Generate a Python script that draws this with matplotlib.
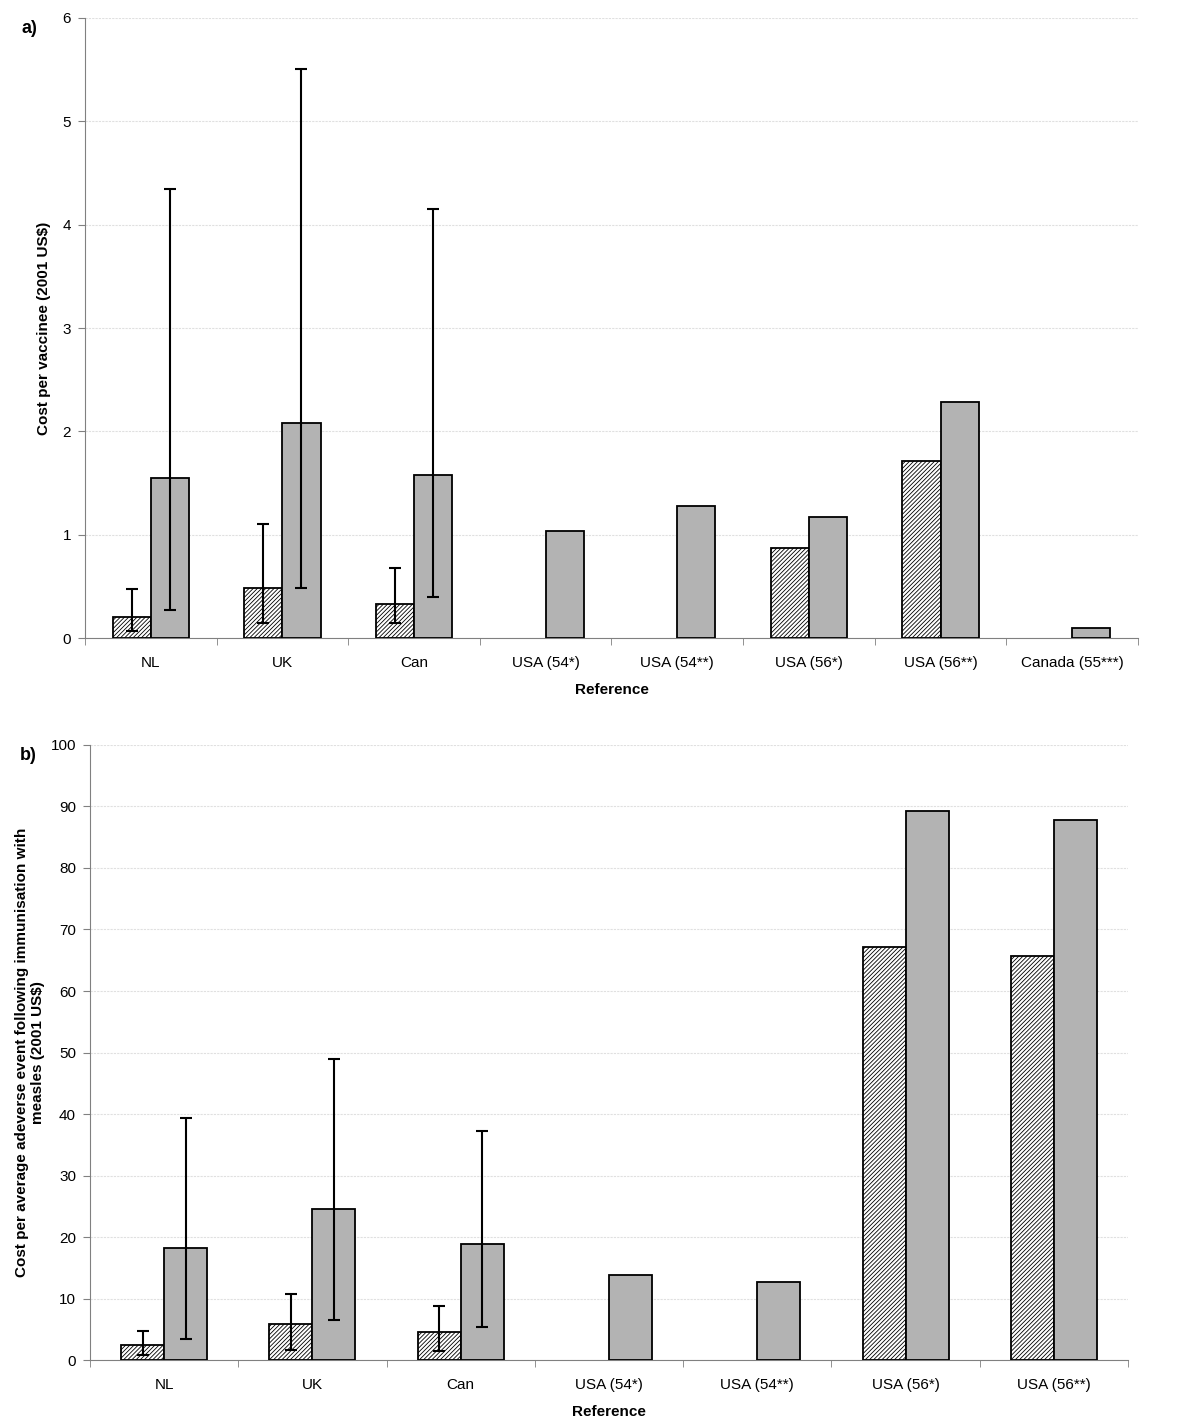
import numpy as np
import matplotlib.pyplot as plt

plt.rcParams['font.family'] = ['Liberation Sans', 'DejaVu Sans']
plt.rcParams['hatch.linewidth'] = 0.6

# panel a) cost per vaccinee
cats_a = ["NL", "UK", "Can", "USA (54*)", "USA (54**)", "USA (56*)", "USA (56**)", "Canada (55***)"]
hatched_a = [0.20, 0.48, 0.33, np.nan, np.nan, 0.87, 1.71, np.nan]
hatched_a_lo = [0.07, 0.15, 0.15, np.nan, np.nan, np.nan, np.nan, np.nan]
hatched_a_hi = [0.47, 1.10, 0.68, np.nan, np.nan, np.nan, np.nan, np.nan]
gray_a = [1.55, 2.08, 1.58, 1.04, 1.28, 1.17, 2.28, 0.10]
gray_a_lo = [0.27, 0.48, 0.40, np.nan, np.nan, np.nan, np.nan, np.nan]
gray_a_hi = [4.35, 5.51, 4.15, np.nan, np.nan, np.nan, np.nan, np.nan]

# panel b) cost per average adverse event
cats_b = ["NL", "UK", "Can", "USA (54*)", "USA (54**)", "USA (56*)", "USA (56**)"]
hatched_b = [2.5, 5.9, 4.5, np.nan, np.nan, 67.1, 65.7]
hatched_b_lo = [0.8, 1.7, 1.4, np.nan, np.nan, np.nan, np.nan]
hatched_b_hi = [4.8, 10.8, 8.8, np.nan, np.nan, np.nan, np.nan]
gray_b = [18.2, 24.5, 18.8, 13.8, 12.7, 89.3, 87.8]
gray_b_lo = [3.5, 6.5, 5.3, np.nan, np.nan, np.nan, np.nan]
gray_b_hi = [39.4, 48.9, 37.2, np.nan, np.nan, np.nan, np.nan]


def draw_panel(ax, cats, hv, hlo, hhi, gv, glo, ghi, ymax, ystep, ylabel, tag, tagx, lpad):
    x = np.arange(len(cats))
    w = 0.29
    hv = np.array(hv); gv = np.array(gv)
    ax.bar(x - w / 2, hv, w, facecolor='white', edgecolor='black', hatch='/' * 8, linewidth=1.3, zorder=3)
    ax.bar(x + w / 2, gv, w, facecolor='#b3b3b3', edgecolor='black', linewidth=1.3, zorder=3)
    herr = [hv - np.array(hlo), np.array(hhi) - hv]
    gerr = [gv - np.array(glo), np.array(ghi) - gv]
    ax.errorbar(x - w / 2, hv, yerr=herr, fmt='none', ecolor='black', elinewidth=1.5, capsize=4, capthick=1.5, zorder=4)
    ax.errorbar(x + w / 2, gv, yerr=gerr, fmt='none', ecolor='black', elinewidth=1.5, capsize=4, capthick=1.5, zorder=4)

    ax.set_xlim(-0.5, len(cats) - 0.5)
    ax.set_ylim(0, ymax)
    ax.set_yticks(np.arange(0, ymax + ystep / 2, ystep))
    ax.set_xticks(x)
    ax.set_xticklabels(cats, fontsize=11)
    ax.set_xticks(np.arange(len(cats) + 1) - 0.5, minor=True)
    ax.tick_params(axis='x', which='major', length=0, pad=13)
    ax.tick_params(axis='x', which='minor', length=5, color='#808080')
    ax.tick_params(axis='y', length=5, color='#808080', labelsize=11, pad=5)
    ax.yaxis.grid(True, color='#e0e0e0', linestyle=(0, (2, 1)), linewidth=0.8, zorder=0)
    ax.set_axisbelow(True)
    for s in ['top', 'right']:
        ax.spines[s].set_visible(False)
    for s in ['left', 'bottom']:
        ax.spines[s].set_color('#808080')
    ax.set_xlabel("Reference", fontsize=11, fontweight='bold', labelpad=9)
    ax.set_ylabel(ylabel, fontsize=11, fontweight='bold', labelpad=lpad)
    ax.text(tagx, 0.997, tag, transform=ax.transAxes, fontsize=13, fontweight='bold', va='top')


fig = plt.figure(figsize=(12, 14.28), dpi=100)
ax_a = fig.add_axes([0.0708, 0.5532, 0.8775, 0.4342])
ax_b = fig.add_axes([0.075, 0.0476, 0.865, 0.4307])

draw_panel(ax_a, cats_a, hatched_a, hatched_a_lo, hatched_a_hi, gray_a, gray_a_lo, gray_a_hi,
           6, 1, "Cost per vaccinee (2001 US$)", "a)", -0.06, 8)
draw_panel(ax_b, cats_b, hatched_b, hatched_b_lo, hatched_b_hi, gray_b, gray_b_lo, gray_b_hi,
           100, 10, "Cost per average adeverse event following immunisation with\nmeasles (2001 US$)", "b)", -0.068, 4)

fig.savefig("out.png", dpi=100)
